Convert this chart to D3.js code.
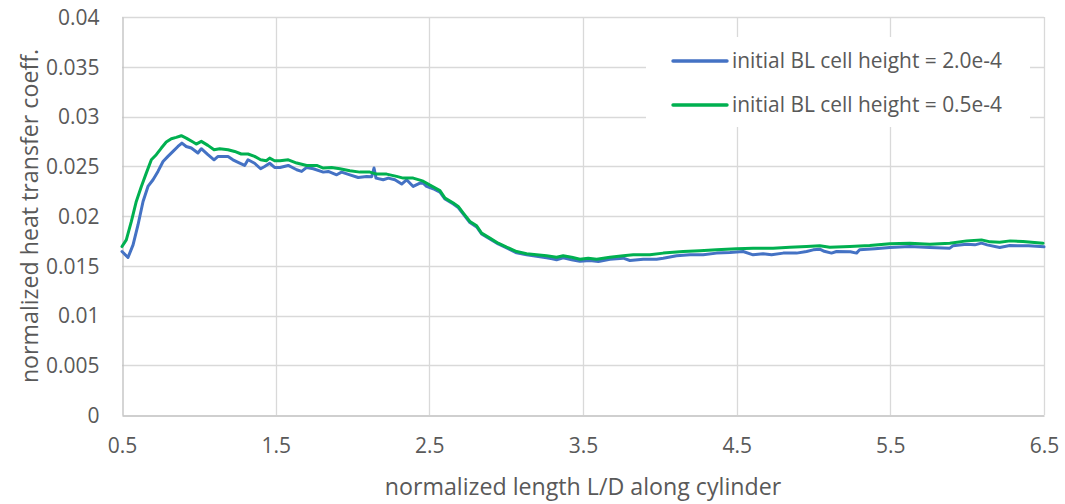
<!DOCTYPE html>
<html>
<head>
<meta charset="utf-8">
<script src="https://cdn.jsdelivr.net/npm/d3@7"></script>
<style>
  html, body { margin: 0; padding: 0; background: #fff; }
  svg { display: block; }
  text { font-family: "Open Sans", sans-serif; fill: #595959; }
</style>
</head>
<body>
<svg id="chart" width="1065" height="504"></svg>
<script>
// ---- data ----
const xTicks = [0.5, 1.5, 2.5, 3.5, 4.5, 5.5, 6.5];
const yTicks = [0, 0.005, 0.01, 0.015, 0.02, 0.025, 0.03, 0.035, 0.04];
const yTickLabels = ["0", "0.005", "0.01", "0.015", "0.02", "0.025", "0.03", "0.035", "0.04"];
const seriesNames = ["initial BL cell height = 2.0e-4", "initial BL cell height = 0.5e-4"];
const seriesColors = ["#4472C4", "#00B050"];
const xTitle = "normalized length L/D along cylinder";
const yTitle = "normalized heat transfer coeff.";

const xBlue = [0.500,0.539,0.572,0.604,0.637,0.669,0.702,0.734,0.767,0.799,0.832,0.864,0.890,0.918,0.951,0.994,1.016,1.059,1.099,1.125,1.190,1.222,1.266,1.298,1.320,1.363,1.402,1.428,1.461,1.493,1.528,1.582,1.637,1.669,1.702,1.745,1.810,1.842,1.897,1.929,1.983,2.037,2.092,2.125,2.140,2.153,2.200,2.233,2.276,2.320,2.352,2.395,2.439,2.460,2.482,2.525,2.569,2.602,2.656,2.688,2.721,2.764,2.808,2.840,2.894,2.948,3.003,3.068,3.133,3.198,3.263,3.300,3.328,3.371,3.426,3.480,3.545,3.600,3.675,3.762,3.805,3.892,3.979,4.022,4.109,4.196,4.282,4.369,4.456,4.542,4.607,4.672,4.727,4.803,4.890,4.955,4.998,5.041,5.070,5.117,5.150,5.240,5.280,5.300,5.400,5.497,5.627,5.757,5.887,5.907,5.996,6.050,6.093,6.130,6.212,6.277,6.400,6.500];
const yBlue = [0.01643,0.01583,0.0171,0.0191,0.02146,0.02297,0.02364,0.02448,0.02548,0.02599,0.02649,0.02699,0.02733,0.02699,0.02683,0.02633,0.02676,0.02616,0.02565,0.02599,0.02599,0.02565,0.02532,0.02508,0.02565,0.0253,0.02475,0.02498,0.0253,0.02488,0.02488,0.02508,0.02465,0.02448,0.02488,0.02475,0.02441,0.02448,0.02414,0.02441,0.02414,0.02387,0.02398,0.02395,0.02482,0.02381,0.02364,0.02381,0.02364,0.02321,0.02364,0.02297,0.02331,0.0233,0.02297,0.02274,0.0224,0.0217,0.0212,0.02085,0.0202,0.01935,0.0189,0.0182,0.0177,0.0172,0.0168,0.0163,0.0161,0.01595,0.0158,0.0157,0.0156,0.0158,0.0156,0.01545,0.01553,0.01542,0.01566,0.01576,0.01553,0.01566,0.01566,0.01576,0.016,0.0161,0.0161,0.01627,0.01633,0.01643,0.0161,0.0162,0.0161,0.01627,0.01627,0.01643,0.0166,0.01667,0.01645,0.01627,0.01643,0.0164,0.01627,0.0166,0.0167,0.01683,0.01693,0.01683,0.01677,0.0170,0.01717,0.0171,0.01727,0.0171,0.01683,0.01703,0.0170,0.0169];

const xGreen = [0.500,0.528,0.561,0.593,0.626,0.658,0.691,0.723,0.756,0.788,0.821,0.853,0.886,0.918,0.962,0.983,1.016,1.059,1.099,1.136,1.190,1.233,1.276,1.320,1.363,1.402,1.439,1.461,1.493,1.528,1.582,1.637,1.702,1.767,1.810,1.864,1.918,1.983,2.048,2.113,2.157,2.222,2.287,2.330,2.395,2.439,2.460,2.504,2.569,2.602,2.656,2.688,2.721,2.764,2.808,2.840,2.894,2.948,3.003,3.068,3.133,3.198,3.263,3.328,3.371,3.426,3.480,3.534,3.589,3.675,3.762,3.827,3.935,4.022,4.152,4.261,4.369,4.499,4.607,4.737,4.846,4.955,5.041,5.106,5.236,5.366,5.497,5.627,5.757,5.887,5.996,6.093,6.150,6.212,6.280,6.364,6.494];
const yGreen = [0.01693,0.0176,0.01945,0.02146,0.02297,0.02431,0.02565,0.02616,0.02683,0.02743,0.02777,0.0279,0.02807,0.02783,0.02743,0.02723,0.0275,0.0271,0.02666,0.02676,0.02666,0.02649,0.02623,0.02623,0.02599,0.02565,0.02555,0.02582,0.02555,0.02555,0.02565,0.02532,0.02508,0.02508,0.02482,0.02488,0.02475,0.02455,0.02441,0.02441,0.02421,0.02421,0.02398,0.02381,0.02381,0.0236,0.0235,0.0231,0.02255,0.0218,0.0213,0.02096,0.02029,0.01945,0.01901,0.01828,0.01778,0.01727,0.01687,0.01643,0.0162,0.0161,0.016,0.01586,0.016,0.01586,0.01566,0.01576,0.01566,0.01586,0.016,0.0161,0.0161,0.01627,0.01643,0.0165,0.0166,0.01672,0.01677,0.01677,0.01687,0.01693,0.0170,0.01685,0.01693,0.01703,0.0172,0.01727,0.01717,0.01727,0.0175,0.0176,0.0174,0.01737,0.0175,0.01743,0.01727];

// ---- layout ----
const plot = { left: 122, right: 1044, top: 17, bottom: 415 };

const svg = d3.select("#chart");
const x = d3.scaleLinear().domain([0.5, 6.5]).range([plot.left, plot.right]);
const y = d3.scaleLinear().domain([0, 0.04]).range([plot.bottom, plot.top]);

// gridlines
const grid = svg.append("g");
grid.selectAll("line.h").data(yTicks.filter(d => d > 0)).join("line")
  .attr("x1", plot.left).attr("x2", plot.right)
  .attr("y1", d => Math.round(y(d)) + 0.5).attr("y2", d => Math.round(y(d)) + 0.5)
  .attr("stroke", "#d9d9d9").attr("stroke-width", 1.3);
grid.selectAll("line.v").data(xTicks.filter(d => d > 0.5)).join("line")
  .attr("y1", plot.top).attr("y2", plot.bottom)
  .attr("x1", d => Math.round(x(d)) + 0.5).attr("x2", d => Math.round(x(d)) + 0.5)
  .attr("stroke", "#d9d9d9").attr("stroke-width", 1.3);

// axes
const yAxis = d3.axisLeft(y).tickValues(yTicks).tickFormat((d, i) => yTickLabels[i]).tickSize(0).tickPadding(23);
const gy = svg.append("g").attr("transform", `translate(${plot.left + 0.5},0)`).call(yAxis);
gy.select(".domain").attr("stroke", "#bfbfbf").attr("stroke-width", 1.3);
gy.selectAll("text").attr("font-family", "Open Sans").attr("font-size", 21).attr("fill", "#595959").attr("dy", "0.35em");

const xAxis = d3.axisBottom(x).tickValues(xTicks).tickFormat(d3.format(".1f")).tickSize(0).tickPadding(23);
const gx = svg.append("g").attr("transform", `translate(0,${plot.bottom + 0.5})`).call(xAxis);
gx.select(".domain").attr("stroke", "#bfbfbf").attr("stroke-width", 1.3);
gx.selectAll("text").attr("font-family", "Open Sans").attr("font-size", 21).attr("fill", "#595959");

// lines
const line = d3.line().x(d => x(d[0])).y(d => y(d[1]));
const series = [
  d3.zip(xBlue, yBlue),
  d3.zip(xGreen, yGreen)
];
svg.append("g").selectAll("path").data(series).join("path")
  .attr("d", line)
  .attr("fill", "none")
  .attr("stroke", (d, i) => seriesColors[i])
  .attr("stroke-width", 3)
  .attr("stroke-linejoin", "round")
  .attr("stroke-linecap", "round");

// legend
const lg = svg.append("g");
lg.append("rect").attr("x", 646).attr("y", 37).attr("width", 384).attr("height", 90).attr("fill", "#fff");
const items = lg.selectAll("g.item").data(seriesNames).join("g")
  .attr("transform", (d, i) => `translate(673,${61 + i * 44})`);
items.append("line").attr("x1", 0).attr("x2", 54).attr("y1", 0).attr("y2", 0)
  .attr("stroke", (d, i) => seriesColors[i]).attr("stroke-width", 3.4).attr("stroke-linecap", "round");
items.append("text").attr("x", 59).attr("y", 0).attr("dy", "0.35em")
  .attr("font-size", 20.9).attr("fill", "#595959").text(d => d);

// axis titles
svg.append("text").attr("x", (plot.left + plot.right) / 2).attr("y", 495)
  .attr("text-anchor", "middle").attr("font-size", 23.2).attr("fill", "#595959").text(xTitle);
svg.append("text").attr("transform", `translate(38,${(plot.top + plot.bottom) / 2 + 0})rotate(-90)`)
  .attr("text-anchor", "middle").attr("font-size", 23.2).attr("fill", "#595959").text(yTitle);
</script>
</body>
</html>
